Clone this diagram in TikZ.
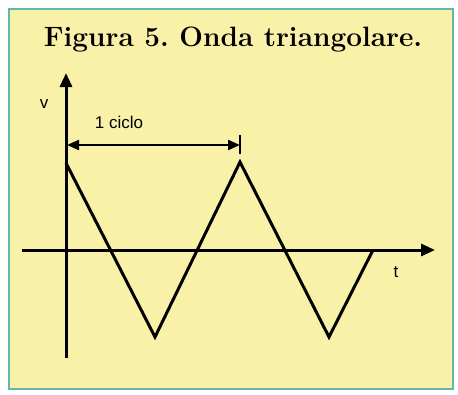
\documentclass[tikz,border=0pt]{standalone}
\usepackage{fontspec}
\setsansfont{Liberation Sans}
\usetikzlibrary{arrows.meta}
\definecolor{fundo}{RGB}{250,241,168}
\definecolor{moldura}{RGB}{98,182,176}
\frenchspacing
\begin{document}
\begin{tikzpicture}[x=1pt,y=-1pt,
    eixo/.style={line width=3pt,-{Triangle[length=14pt,width=12pt]}},
    onda/.style={line width=3pt,line join=miter},
    cota/.style={line width=2.2pt,{Triangle[length=12pt,width=10pt]}-{Triangle[length=12pt,width=10pt]}},
    rotulo/.style={font=\sffamily\fontsize{17}{20}\selectfont}]
    \useasboundingbox (0,0) rectangle (458,394);

    % fundo e moldura
    \fill[white] (0,0) rectangle (458,394);
    \fill[fundo] (9,9) rectangle (453,389);
    \draw[moldura,line width=2pt] (9,9) rectangle (453,389);

    % titulo
    \node (titulo) at (233,40) {\fontsize{28}{32}\selectfont\bfseries Figura 5. Onda triangolare.};

    % eixos
    \coordinate (O) at (66,250);
    \coordinate (xi) at (22,250);
    \coordinate (xf) at (435,250);
    \coordinate (yi) at (66,358);
    \coordinate (yf) at (66,73);
    \draw[eixo] (xi) -- (xf);
    \draw[eixo] (yi) -- (yf);

    % onda
    \coordinate (w0) at (66,163);
    \coordinate (w1) at (155,337);
    \coordinate (w2) at (240,162);
    \coordinate (w3) at (329,337);
    \coordinate (w4) at (373,250);
    \draw[onda] (w0) -- (w1) -- (w2) -- (w3) -- (w4);

    % ciclo
    \coordinate (c0) at (67,145);
    \coordinate (c1) at (240,145);
    \coordinate (t0) at (240,135);
    \coordinate (t1) at (240,154);
    \draw[cota] (c0) -- (c1);
    \draw[line width=2.2pt] (t0) -- (t1);

    % rotulos
    \node[rotulo] (v) at (44,104) {v};
    \node[rotulo] (ciclo) at (119,122) {1 ciclo};
    \node[rotulo] (t) at (396,272) {t};
\end{tikzpicture}
\end{document}
